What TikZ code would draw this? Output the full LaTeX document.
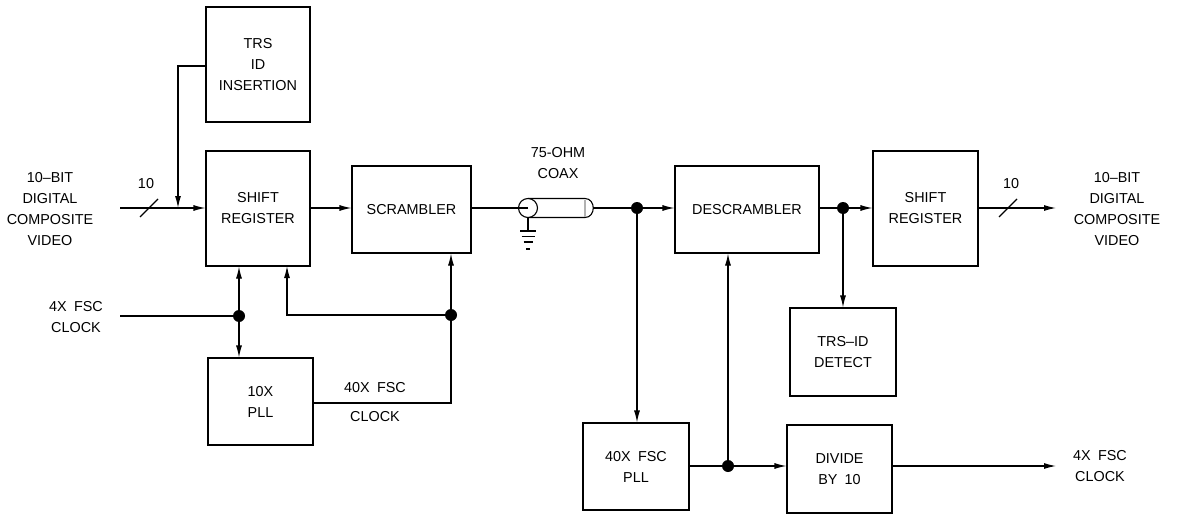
\documentclass[tikz,border=0pt]{standalone}
\usepackage{fontspec}
\setmainfont{Liberation Sans}
\usetikzlibrary{arrows.meta}
\tikzset{
  blk/.style={draw, line width=1.1pt, inner sep=0pt, align=center, font=\fontsize{14.4}{21}\selectfont},
  lbl/.style={inner sep=0pt, align=center, font=\fontsize{14.4}{21}\selectfont},
  wire/.style={line width=1.1pt},
  arr/.style={wire, -{Latex[length=12pt,width=6pt]}},
  dotn/.style={circle, fill=black, inner sep=0pt, minimum size=12pt},
}
\begin{document}
\begin{tikzpicture}[x=1pt,y=-1pt]
\useasboundingbox (0,0) rectangle (1177,516);
% boxes
\node[blk, minimum width=104pt, minimum height=115pt] (trs) at (258,64.5) {TRS\\ID\\INSERTION};
\node[blk, minimum width=104pt, minimum height=115pt] (sr1) at (258,208.5) {SHIFT\\REGISTER};
\node[blk, minimum width=119pt, minimum height=87pt] (scr) at (411.5,209.5) {SCRAMBLER};
\node[blk, minimum width=144pt, minimum height=87pt] (des) at (747,209.5) {DESCRAMBLER};
\node[blk, minimum width=105pt, minimum height=115pt] (sr2) at (925.5,208.5) {SHIFT\\REGISTER};
\node[blk, minimum width=106pt, minimum height=88pt] (det) at (843,352) {TRS–ID\\DETECT};
\node[blk, minimum width=105pt, minimum height=87pt] (pllA) at (260.5,401.5) {10X\\PLL};
\node[blk, minimum width=106pt, minimum height=87pt] (pllB) at (636,466.5) {40X\enspace FSC\\PLL};
\node[blk, minimum width=105pt, minimum height=88pt] (div) at (839.5,469) {DIVIDE\\BY\enspace 10};
% labels
\node[lbl] (inlbl) at (50,209) {10–BIT\\DIGITAL\\COMPOSITE\\VIDEO};
\node[lbl] (outlbl) at (1117,209) {10–BIT\\DIGITAL\\COMPOSITE\\VIDEO};
\node[lbl] (clkin) at (76,317) {4X\enspace FSC\\CLOCK};
\node[lbl] (clkout) at (1100,466) {4X\enspace FSC\\CLOCK};
\node[lbl] (n10a) at (146,184) {10};
\node[lbl] (n10b) at (1011,184) {10};
\node[lbl] (coaxl) at (558,163) {75-OHM\\COAX};
\node[lbl] (c40a) at (375,388) {40X\enspace FSC};
\node[lbl] (c40b) at (375,417) {CLOCK};
% coordinates
\coordinate (inS) at (120,208);
\coordinate (clkS) at (120,316);
\coordinate (outE) at (1056,208);
\coordinate (clkE) at (1056,466);
\coordinate (cx) at (528,208);
% dots
\node[dotn] (d1) at (239,316) {};
\node[dotn] (d2) at (451,315) {};
\node[dotn] (d3) at (637,208) {};
\node[dotn] (d4) at (843,208) {};
\node[dotn] (d5) at (728,466) {};
% input path
\draw[arr] (inS) -- (sr1.west |- inS);
\draw[wire] (140,217) -- (158,199);
\draw[arr] (trs.west |- 0,66) -| (178,208);
\draw[arr] (sr1.east |- 0,208) -- (scr.west |- 0,208);
% coax
\draw[wire] (scr.east |- 0,208) -- (cx);
\draw[wire, fill=white] (528,198.5) -- (585,198.5) .. controls (596,198.5) and (596,217.5) .. (585,217.5) -- (528,217.5);
\draw[gray!60, line width=1.4pt] (585,199.5) -- (585,216.5);
\draw[wire, fill=white] (cx) circle[radius=9.5];
\draw[wire] (cx) -- (518.5,208);
\draw[wire] (593,208) -- (d3);
\draw[arr] (d3) -- (des.west |- d3);
% ground
\draw[wire] (528,217.5) -- (528,231);
\draw[wire] (520,231) -- (536,231);
\draw[wire] (521.5,236.5) -- (534.5,236.5);
\draw[wire] (523.5,242) -- (532.5,242);
\draw[wire] (526,249) -- (530,249);
% clocks left
\draw[wire] (clkS) -- (d1);
\draw[arr] (d1) -- (sr1.south -| d1);
\draw[arr] (d1) -- (pllA.north -| d1);
\draw[wire] (pllA.east |- 0,403) -| (d2);
\draw[arr] (d2) -- (scr.south -| d2);
\draw[arr] (d2) -| (287,266);
% right side
\draw[wire] (des.east |- d4) -- (d4);
\draw[arr] (d4) -- (sr2.west |- d4);
\draw[arr] (d4) -- (det.north -| d4);
\draw[arr] (sr2.east |- outE) -- (outE);
\draw[wire] (999,217) -- (1017,199);
\draw[arr] (d3) -- (pllB.north -| d3);
\draw[wire] (pllB.east |- d5) -- (d5);
\draw[arr] (d5) -- (div.west |- d5);
\draw[arr] (d5) -- (des.south -| d5);
\draw[arr] (div.east |- clkE) -- (clkE);
\end{tikzpicture}
\end{document}
